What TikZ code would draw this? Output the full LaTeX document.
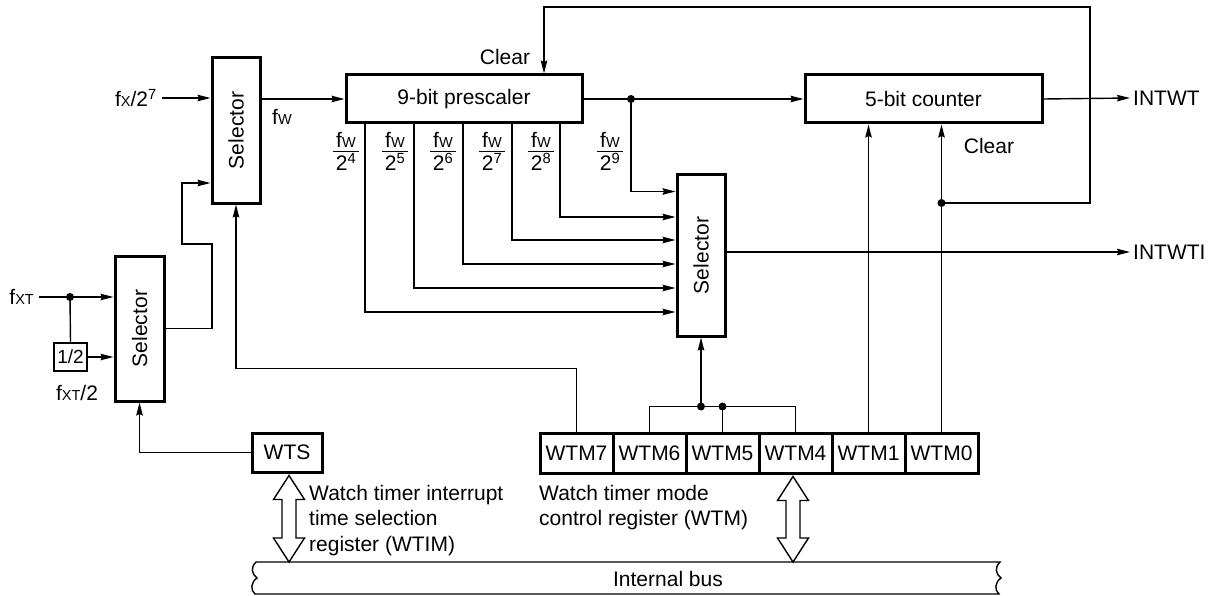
\documentclass[tikz,border=0pt]{standalone}
\usepackage{fontspec}
\setmainfont{Liberation Sans}
\usepackage{graphicx}
\usetikzlibrary{arrows.meta,calc}
\setlength{\arrayrulewidth}{1pt}
\newcommand\sbs[1]{{\fontsize{14.5}{14.5}\selectfont #1}}
\newcommand\frc[1]{\begin{tabular}{@{\hspace{3pt}}c@{\hspace{3pt}}}f\sbs{W}\\[-4pt]\hline\rule{0pt}{19pt}2\textsuperscript{#1}\end{tabular}}
\newcommand\dblarr[2]{\draw[wire,fill=white,line join=miter] (#1) -- ($(#1)+(15.5,24)$) -- ($(#1)+(7,24)$) -- ($(#2)+(7,-24)$) -- ($(#2)+(15.5,-24)$) -- (#2) -- ($(#2)+(-15.5,-24)$) -- ($(#2)+(-7,-24)$) -- ($(#1)+(-7,24)$) -- ($(#1)+(-15.5,24)$) -- cycle;}
\begin{document}
\begin{tikzpicture}[x=1pt,y=-1pt,font=\fontsize{21}{25.5}\selectfont,
  box/.style={draw,line width=3pt,inner sep=0pt},
  wire/.style={line width=1.4pt},
  arr/.style={wire,-{Stealth[length=13pt,width=6.5pt,inset=1.5pt]}},
  dot/.style={circle,fill,inner sep=0pt,minimum size=8pt},
  lbl/.style={inner sep=0pt}]
\useasboundingbox (0,0) rectangle (1217,596);

% blocks
\node[box,minimum width=48pt,minimum height=145pt] (selA) at (236,130.5) {\rotatebox{90}{Selector}};
\node[box,minimum width=49pt,minimum height=145pt] (selB) at (139.5,328.5) {\rotatebox{90}{Selector}};
\node[box,line width=2.5pt,minimum width=33pt,minimum height=28pt,font=\fontsize{19}{19}\selectfont] (half) at (70.5,357) {1/2};
\node[box,minimum width=236pt,minimum height=48pt] (pre) at (464,99) {9-bit prescaler};
\node[box,minimum width=237pt,minimum height=48pt] (cnt) at (923.5,99) {5-bit counter};
\node[box,minimum width=48pt,minimum height=161pt] (selC) at (701,255.5) {\rotatebox{90}{Selector}};
\node[box,minimum width=70pt,minimum height=39pt] (wts) at (287,452.5) {WTS};
\node[box,minimum width=73pt,minimum height=40pt] (wtm7) at (576.5,453) {WTM7};
\node[box,minimum width=73pt,minimum height=40pt] (wtm6) at (649.5,453) {WTM6};
\node[box,minimum width=73pt,minimum height=40pt] (wtm5) at (722.5,453) {WTM5};
\node[box,minimum width=73pt,minimum height=40pt] (wtm4) at (795.5,453) {WTM4};
\node[box,minimum width=73pt,minimum height=40pt] (wtm1) at (868.5,453) {WTM1};
\node[box,minimum width=73pt,minimum height=40pt] (wtm0) at (941.5,453) {WTM0};

% labels
\node[lbl,anchor=east] (lfx) at (157,98) {f\sbs{X}/2\textsuperscript{7}};
\node[lbl] (lfw) at (282,117) {f\sbs{W}};
\node[lbl,anchor=east] (lfxt) at (34,297) {f\sbs{XT}};
\node[lbl] (lfxt2) at (77,393) {f\sbs{XT}/2};
\node[lbl] (clr1) at (505,57) {Clear};
\node[lbl] (clr2) at (989,146) {Clear};
\node[lbl,anchor=west] (lintwt) at (1133,98) {INTWT};
\node[lbl,anchor=west] (lintwti) at (1133,252) {INTWTI};
\node[lbl,anchor=north west,align=left] (twtim) at (309,485) {Watch timer interrupt\\time selection\\register (WTIM)};
\node[lbl,anchor=north west,align=left] (twtm) at (539,485) {Watch timer mode\\control register (WTM)};
\node[lbl] (q4) at (346,154) {\frc{4}};
\node[lbl] (q5) at (395,154) {\frc{5}};
\node[lbl] (q6) at (443,154) {\frc{6}};
\node[lbl] (q7) at (492,154) {\frc{7}};
\node[lbl] (q8) at (541,154) {\frc{8}};
\node[lbl] (q9) at (610,154) {\frc{9}};

% left part
\draw[arr] ([xshift=5pt]lfx.east) -- (selA.west |- lfx.east);
\draw[arr] (selA.east |- pre.west) -- (pre.west);
\draw[arr] (selB.east) -- (212,328.5) -- (212,244) -- (182,244) |- ($(selA.south west)+(0,-21.5)$);
\node[dot] (d1) at (70,297) {};
\draw[arr] ([xshift=5pt]lfxt.east) -- (selB.west |- d1);
\draw[wire] (d1.center) -- (half.north);
\draw[arr] (half.east) -- (selB.west |- half.east);
\draw[arr] (wts.west) -| (selB.south);
\draw[arr] (wtm7.north) -- ++(0,-63) -| (selA.south);

% prescaler and counter
\draw[arr] (pre.east) -- (cnt.west);
\node[dot] (d2) at (631,99) {};
\draw[arr] (d2.center) |- ($(selC.north west)+(0,18)$);
\foreach \xx/\yy in {365/312,414/288,463/264,512/240,560/217}
  \draw[arr] (pre.south -| \xx,0) |- (selC.west |- 0,\yy);
\draw[arr] (selC.east |- lintwti.west) -- ([xshift=-3pt]lintwti.west);
\draw[arr] (cnt.east) -- ([xshift=-3pt]lintwt.west);
\draw[arr] (wtm1.north) -- (cnt.south -| wtm1.north);
\draw[arr] (wtm0.north) -- (cnt.south -| wtm0.north);
\node[dot] (d3) at (wtm0.north |- 0,203) {};
\draw[arr] (d3.center) -| (1090,7) -| (544,0 |- pre.north);

% WTM6/5/4 merge
\draw[wire] (wtm6.north) -- ++(0,-25) -| (wtm4.north);
\draw[wire] (wtm5.north) -- ++(0,-25) coordinate (j5);
\node[dot] (d5) at (j5) {};
\node[dot] (d4) at (selC.south |- j5) {};
\draw[arr] (d4.center) -- (selC.south);

% internal bus
\draw[wire] (256,562) -- (1000,562)
  .. controls (994,568) and (996,574) .. (1001,578)
  .. controls (995,582) and (994,590) .. (999,594)
  -- (255,594)
  .. controls (250,590) and (251,582) .. (257,578)
  .. controls (252,574) and (250,568) .. (256,562) -- cycle;
\node[lbl] (lbus) at (668,579) {Internal bus};

% double arrows
\coordinate (wa) at ($(wts.south)+(2,2)$);
\coordinate (wb) at (wa |- 0,562);
\dblarr{wa}{wb}
\coordinate (ma) at ($(wtm4.south)+(-2.5,2)$);
\coordinate (mb) at (ma |- 0,562);
\dblarr{ma}{mb}
\end{tikzpicture}
\end{document}
